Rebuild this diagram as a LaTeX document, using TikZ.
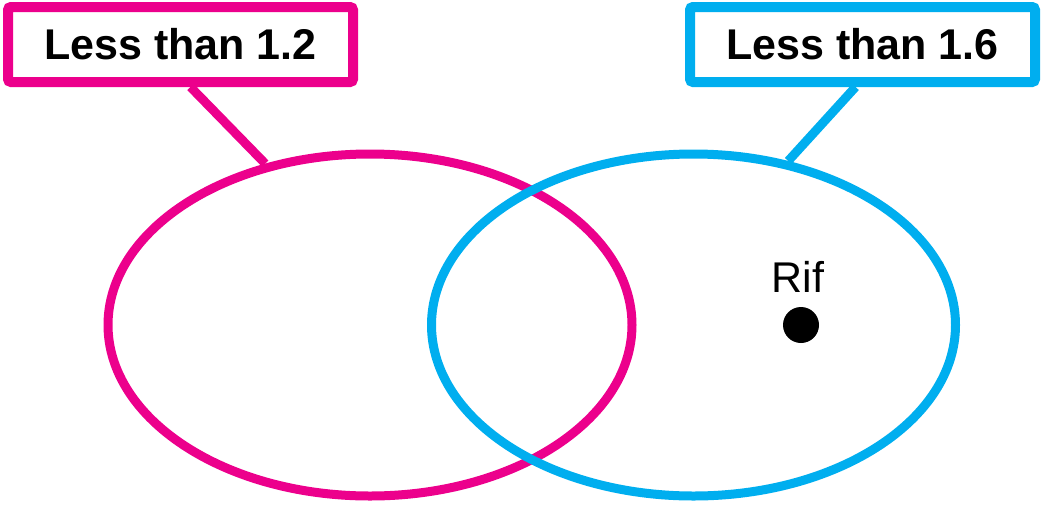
\documentclass[tikz,border=0pt]{standalone}
\usepackage{fontspec}
\setmainfont{Liberation Sans}
\usetikzlibrary{shapes.geometric}
\definecolor{setmagenta}{HTML}{EC008C}
\definecolor{setcyan}{HTML}{00AEEF}
\begin{document}
\begin{tikzpicture}[x=1pt,y=-1pt,
  setring/.style={ellipse,draw,line width=9pt,minimum width=524pt,minimum height=342pt,inner sep=0pt},
  labelbox/.style={rectangle,draw,fill=white,line width=10pt,rounded corners=3pt,
    minimum width=345pt,minimum height=75pt,inner sep=0pt,
    font=\fontsize{43}{50}\selectfont\bfseries},
  pointer/.style={line width=9pt},
  member/.style={circle,fill=black,minimum size=36pt,inner sep=0pt}]
\useasboundingbox (0,0) rectangle (1042,504);
% the two sets; the cyan ring lies over the magenta one
\node[setring,draw=setmagenta] (setA) at (370,325) {};
\node[setring,draw=setcyan] (setB) at (693.5,325) {};
% captions
\node[labelbox,draw=setmagenta] (capA) at (180.5,44.5) {Less than 1.2};
\node[labelbox,draw=setcyan] (capB) at (862.5,44.5) {Less than 1.6};
\draw[pointer,setmagenta] ([xshift=10pt]capA.south) -- (setA.123.7);
\draw[pointer,setcyan] ([xshift=-7pt]capB.south) -- (setB.60.6);
% element
\node[member] (rif) at (801,325) {};
\node[font=\fontsize{43}{50}\selectfont,anchor=base] (riflabel) at (798,292) {Rif};
\end{tikzpicture}
\end{document}
